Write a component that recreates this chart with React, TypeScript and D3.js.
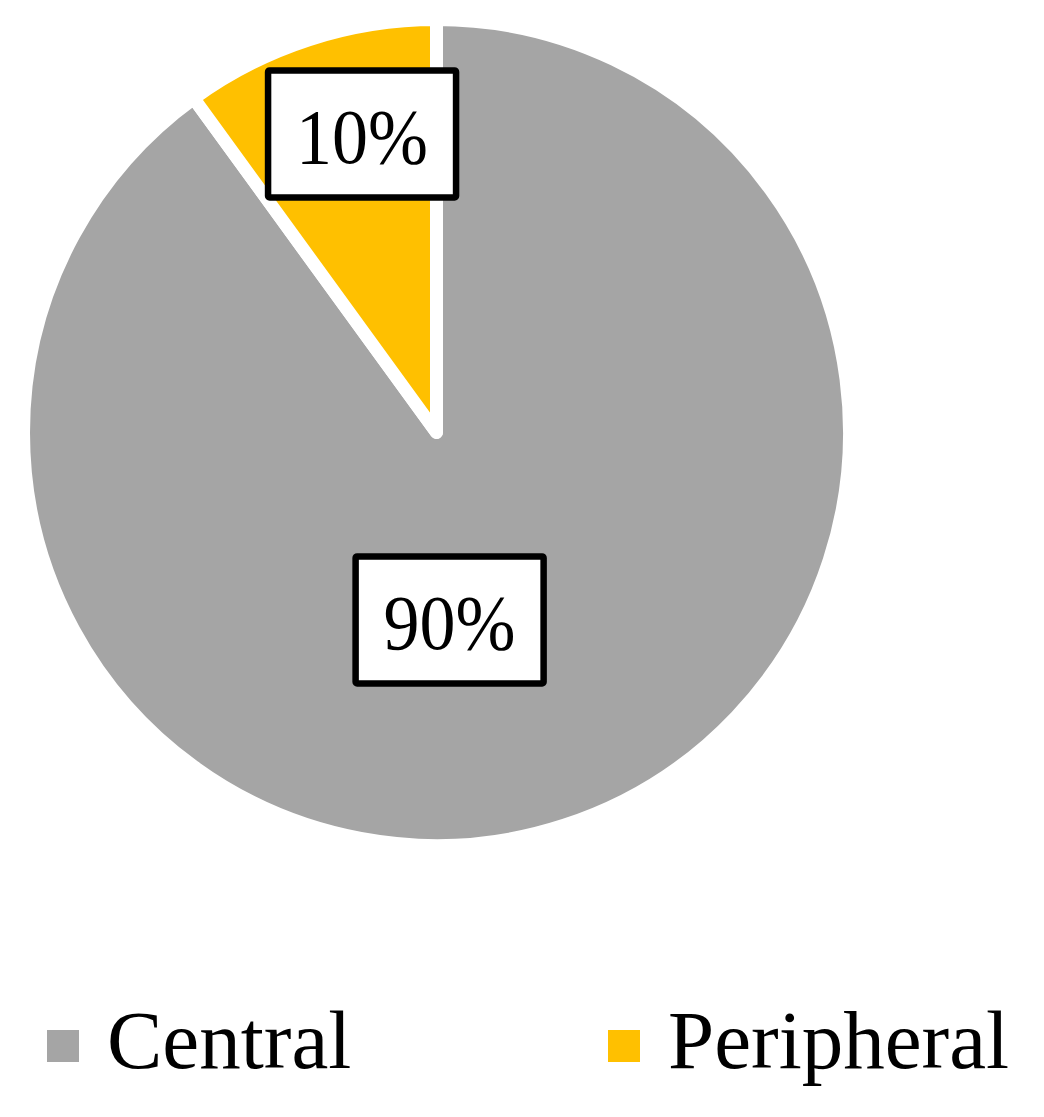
import React from 'react';
import * as d3 from 'd3';

// Data
const categories = ['Central', 'Peripheral'];
const shares = [90, 10];
const labels = ['90%', '10%'];

const COLORS = ['#A5A5A5', '#FFC000'];

// label placement (fraction of radius, angle nudge in degrees) like Excel's best fit
const labelRadiusFrac = [0.455, 0.745];
const labelAngleNudge = [14, 4];

const WIDTH = 1044;
const HEIGHT = 1117;
const FONT = '"Liberation Serif", "DejaVu Serif", serif';

export default function App() {
  const cx = 436.5;
  const cy = 432.5;
  const strokeW = 13;
  const radius = 413; // visible edge ends up ~406 after white stroke

  const pie = d3.pie<number>().sort(null).value((d) => d);
  const arcs = pie(shares);
  const arc = d3.arc<d3.PieArcDatum<number>>().innerRadius(0).outerRadius(radius);

  const legendX = d3.scalePoint<string>().domain(categories).range([47, 608]);

  return (
    <svg
      width={WIDTH}
      height={HEIGHT}
      style={{ position: 'absolute', left: 0, top: 0, background: '#fff' }}
    >
      <g transform={`translate(${cx},${cy})`}>
        {arcs.map((a, i) => (
          <path
            key={categories[i]}
            d={arc(a) || ''}
            fill={COLORS[i]}
            stroke="#fff"
            strokeWidth={strokeW}
            strokeLinejoin="round"
          />
        ))}
        {arcs.map((a, i) => {
          const mid = (a.startAngle + a.endAngle) / 2 + (labelAngleNudge[i] * Math.PI) / 180;
          const [lx, ly] = d3.pointRadial(mid, radius * labelRadiusFrac[i]);
          const bw = 188;
          const bh = 127;
          return (
            <g key={labels[i]} transform={`translate(${lx},${ly})`}>
              <rect
                x={-bw / 2}
                y={-bh / 2}
                width={bw}
                height={bh}
                fill="#fff"
                stroke="#000"
                strokeWidth={6.5}
                rx={1.5}
              />
              <text
                x={0}
                y={29}
                textAnchor="middle"
                fontFamily={FONT}
                fontSize={78}
                textLength={132}
                lengthAdjust="spacingAndGlyphs"
                fill="#000"
              >
                {labels[i]}
              </text>
            </g>
          );
        })}
      </g>

      <g>
        {categories.map((c, i) => {
          const x = legendX(c) ?? 0;
          return (
            <g key={c} transform={`translate(${x},1030)`}>
              <rect width={32} height={32} fill={COLORS[i]} />
              <text x={60} y={38} fontFamily={FONT} fontSize={83} fill="#000">
                {c}
              </text>
            </g>
          );
        })}
      </g>
    </svg>
  );
}
